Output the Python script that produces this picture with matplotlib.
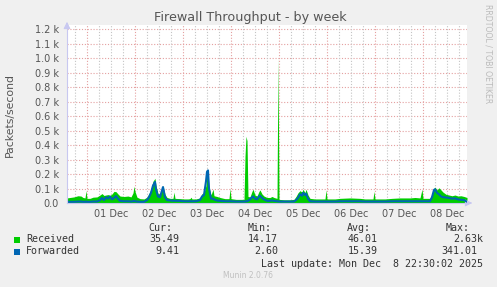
import matplotlib
matplotlib.use('Agg')
import matplotlib.pyplot as plt

# hours since 30 Nov 00:00
hours = [14, 15.5, 17.5, 19.5, 21, 22, 23, 23.5, 24, 25.5, 27, 29, 30.5, 31.5, 32.5,
         33.5, 34.5, 35.5, 36.5, 37.5, 38.5, 39.5, 40.5, 42.5, 44.5, 46, 47, 47.5, 48,
         49, 50.5, 52.5, 54, 55, 56, 57, 58, 58.5, 59.5, 60.5, 61.5, 62, 63, 64, 65.5,
         67, 67.5, 68, 70.5, 72.5, 74.5, 75.5, 76, 76.5, 78.5, 80.5, 81.5, 82.5, 83.5,
         84, 84.5, 85, 86, 87, 87.5, 89, 90.5, 93, 95, 95.5, 96, 98.5, 100.5, 102.5,
         103, 103.5, 104, 104.5, 105.5, 106.5, 107, 108, 109, 110, 110.5, 111.5, 112.5,
         114, 115.5, 116.5, 117.5, 119, 119.5, 120, 122.5, 125.5, 127.5, 128.5, 129.5,
         130.5, 131.5, 132, 133, 133.5, 134.5, 135.5, 138, 140.5, 143, 143.5, 144, 148,
         150.5, 155.5, 160.5, 163, 167, 167.5, 168, 173, 176.5, 180.5, 185.5, 188,
         190.5, 191.5, 192, 195.5, 196.5, 197.5, 198, 199, 200, 201, 202, 203.5, 205,
         206.5, 208, 209.5, 211, 212.5, 214]

received = [35, 38, 42, 50, 48, 38, 35, 85, 32, 32, 40, 42, 55, 65, 52,
            55, 58, 52, 62, 80, 78, 62, 48, 45, 48, 42, 70, 115, 80,
            40, 30, 28, 40, 65, 95, 150, 170, 120, 65, 62, 100, 120, 60, 38, 32,
            32, 75, 32, 30, 28, 28, 30, 40, 28, 28, 35, 65, 70, 120,
            200, 215, 110, 55, 95, 50, 45, 38, 30, 30, 100, 30, 25, 25, 25,
            320, 460, 430, 45, 42, 80, 95, 55, 48, 80, 90, 62, 48,
            38, 38, 45, 38, 32, 1000, 25, 22, 22, 25, 45, 70,
            85, 75, 95, 70, 95, 55, 32, 28, 28, 28, 90, 28, 28,
            32, 35, 32, 28, 28, 80, 28, 28, 32, 35, 35, 38,
            35, 95, 32, 32, 60, 100, 110, 90, 105, 90, 75, 60, 55,
            50, 55, 48, 50, 45, 38]

forwarded = [8, 8, 8, 10, 10, 8, 8, 10, 8, 8, 10, 10, 20, 35, 20,
             40, 30, 45, 25, 35, 48, 30, 15, 12, 12, 10, 12, 15, 12,
             10, 8, 8, 20, 40, 70, 120, 145, 95, 45, 40, 85, 110, 40, 20, 18,
             15, 18, 15, 15, 12, 12, 12, 12, 12, 12, 20, 45, 55, 150,
             215, 225, 100, 30, 30, 25, 17, 15, 12, 12, 12, 12, 10, 10, 10,
             10, 12, 12, 15, 25, 40, 45, 30, 25, 45, 50, 35, 25,
             15, 15, 18, 15, 12, 12, 10, 10, 10, 10, 20, 35,
             60, 50, 70, 55, 65, 30, 12, 10, 10, 10, 10, 10, 10,
             12, 12, 12, 10, 10, 10, 10, 10, 12, 12, 12, 12,
             12, 12, 12, 12, 40, 90, 95, 70, 60, 45, 40, 38, 35,
             30, 32, 25, 22, 20, 9]

day_labels = ['01 Dec', '02 Dec', '03 Dec', '04 Dec', '05 Dec', '06 Dec', '07 Dec', '08 Dec']
ytick_labels = ['0.0'] + ['%.1f k' % (v / 10) for v in range(1, 13)]

legend_rows = [('Received', '#00CC00', '35.49', '14.17', '46.01', '2.63k'),
               ('Forwarded', '#0066B3', '9.41', '2.60', '15.39', '341.01')]

W, H = 497, 287
fig = plt.figure(figsize=(W / 100, H / 100), dpi=100, facecolor='#F0F0F0')
ax = fig.add_axes([67 / W, (H - 203) / H, 400 / W, 178 / H])
ax.set_facecolor('white')

ax.fill_between(hours, received, 0, color='#00CC00', linewidth=0, zorder=3)
ax.plot(hours, forwarded, color='#0066B3', linewidth=1.5, zorder=4)

ax.set_xlim(14, 214)
ax.set_ylim(0, 1228)

# grid
for v in range(100, 1300, 100):
    ax.axhline(v, color='#E4A0A0', linewidth=0.8, linestyle=(0, (1, 1.6)), zorder=1)
for hh in range(18, 214, 6):
    if hh % 24 == 0:
        ax.axvline(hh, color='#E4A0A0', linewidth=0.8, linestyle=(0, (1, 1.6)), zorder=2)
    else:
        ax.axvline(hh, color='#C4C4C4', linewidth=0.8, linestyle=(0, (1, 1.6)), zorder=1)

ax.set_yticks(range(0, 1300, 100))
ax.set_yticklabels(ytick_labels)
ax.set_xticks([24 * (i + 1) + 12 for i in range(len(day_labels))])
ax.set_xticklabels(day_labels)
ax.tick_params(axis='both', labelsize=7, colors='#555555', length=0, pad=4)
ax.tick_params(axis='y', pad=6)

for s in ['top', 'right']:
    ax.spines[s].set_visible(False)
for s in ['left', 'bottom']:
    ax.spines[s].set_color('#C8C8F0')
    ax.spines[s].set_zorder(5)

# axis arrows
ax.annotate('', xy=(1.0 + 8 / 400, 0), xytext=(1.0, 0), xycoords='axes fraction',
            arrowprops=dict(arrowstyle='-|>', color='#C8C8F0', lw=0.8), annotation_clip=False)
ax.annotate('', xy=(0, 1.0 + 6 / 178), xytext=(0, 0.98), xycoords='axes fraction',
            arrowprops=dict(arrowstyle='-|>', color='#C8C8F0', lw=0.8), annotation_clip=False)

fig.text(250 / W, 1 - 18 / H, 'Firewall Throughput - by week', ha='center', va='center',
         fontsize=9.2, color='#555555')
fig.text(10 / W, 1 - 115 / H, 'Packets/second', rotation=90, ha='center', va='center',
         fontsize=7.8, color='#555555')
fig.text(488 / W, 1 - 54 / H, 'RRDTOOL / TOBI OETIKER', rotation=270, ha='center',
         va='center', fontsize=5.6, color='#BBBBBB')

mono = 'DejaVu Sans Mono'
fs = 7.2
for x, t in [(172, 'Cur:'), (272, 'Min:'), (371, 'Avg:'), (470, 'Max:')]:
    fig.text(x / W, 1 - 228 / H, t, ha='right', va='center', family=mono, fontsize=fs, color='#333333')

for i, (name, col, cur, mn, avg, mx) in enumerate(legend_rows):
    y = 1 - (239.5 + 12 * i) / H
    fig.patches.append(plt.Rectangle((14 / W, y - 3 / H), 5.5 / W, 5.5 / H, transform=fig.transFigure,
                                     facecolor=col, edgecolor='none'))
    fig.text(26 / W, y, name, ha='left', va='center', family=mono, fontsize=fs, color='#333333')
    ends = [179, 278, 378, 483 if i == 0 else 477]
    for x, t in zip(ends, [cur, mn, avg, mx]):
        fig.text(x / W, y, t, ha='right', va='center', family=mono, fontsize=fs, color='#333333')

fig.text(483 / W, 1 - 263.7 / H, 'Last update: Mon Dec  8 22:30:02 2025', ha='right', va='center',
         family=mono, fontsize=fs, color='#333333')
fig.text(248 / W, 1 - 276 / H, 'Munin 2.0.76', ha='center', va='center', fontsize=5.5, color='#C0C0C0')

fig.savefig('out.png', dpi=100, facecolor=fig.get_facecolor())
